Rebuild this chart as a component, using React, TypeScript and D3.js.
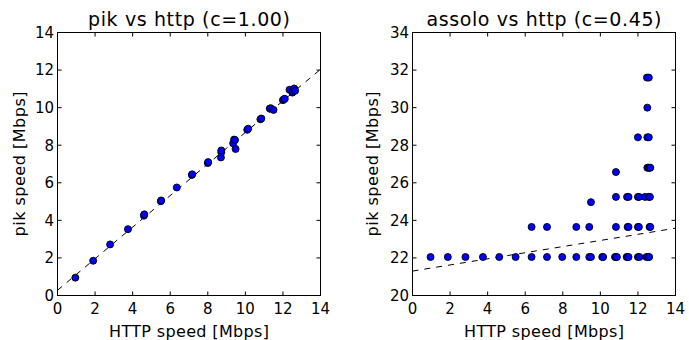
import React, { useEffect, useRef } from 'react';
import * as d3 from 'd3';

// pik vs http
const pikHttp = [0.95, 1.9, 2.8, 3.75, 4.6, 4.62, 5.5, 5.52, 6.35, 7.15, 7.17, 8.0, 8.02, 8.7, 8.72, 8.72, 9.35, 9.4, 9.45, 9.48, 10.1, 10.15, 10.8, 10.85, 11.3, 11.35, 11.5, 12.0, 12.05, 12.1, 12.35, 12.5, 12.55, 12.6, 12.65];
const pikSpeed = [0.95, 1.85, 2.72, 3.53, 4.25, 4.32, 5.02, 5.06, 5.75, 6.42, 6.45, 7.05, 7.1, 7.35, 7.62, 7.72, 8.1, 8.3, 8.28, 7.8, 8.82, 8.88, 9.38, 9.42, 9.95, 9.97, 9.88, 10.4, 10.45, 10.47, 10.95, 10.8, 10.85, 11.02, 10.9];
const pikFit = { intercept: 0.28, slope: 0.84 };

// assolo vs http
const assoloHttp = [
  0.96, 1.88, 2.82, 3.75, 4.62, 5.49, 6.34, 7.16, 7.97, 8.72, 9.41, 9.5, 10.1, 10.15, 10.78, 10.83, 10.88, 11.4, 11.45, 11.5, 12.0, 12.08, 12.45, 12.55, 12.6,
  6.34, 7.16, 8.72, 9.41, 10.83, 11.45, 11.5, 12.0, 12.05, 12.62, 12.66,
  9.5,
  10.83, 11.42, 11.5, 12.0, 12.06, 12.38, 12.58, 12.64,
  10.83,
  12.5, 12.56, 12.62, 12.66,
  12.0, 12.5, 12.58,
  12.5,
  12.48, 12.58,
];
const assoloSpeed = [
  22.05, 22.05, 22.05, 22.05, 22.05, 22.05, 22.05, 22.05, 22.05, 22.05, 22.05, 22.05, 22.05, 22.05, 22.05, 22.05, 22.05, 22.05, 22.05, 22.05, 22.05, 22.05, 22.05, 22.05, 22.05,
  23.65, 23.65, 23.65, 23.65, 23.65, 23.65, 23.65, 23.65, 23.65, 23.65, 23.65,
  24.97,
  25.25, 25.25, 25.25, 25.25, 25.25, 25.25, 25.25, 25.25,
  26.57,
  26.8, 26.8, 26.8, 26.8,
  28.42, 28.42, 28.42,
  30.0,
  31.6, 31.6,
];
const assoloFit = { intercept: 21.3, slope: 0.163 };

const xTicks = [0, 2, 4, 6, 8, 10, 12, 14];
const pikTicks = [0, 2, 4, 6, 8, 10, 12, 14];
const assoloTicks = [20, 22, 24, 26, 28, 30, 32, 34];

const FONT = 'DejaVu Sans, sans-serif';

const Panel = ({ left, title, titleLen, xs, ys, yTicks, fit, yLabelX }) => {
  const ref = useRef(null);

  useEffect(() => {
    const w = 263, h = 263, top = 32.5;
    const g = d3.select(ref.current);
    g.selectAll('*').remove();
    g.attr('transform', `translate(${left},${top})`);

    const x = d3.scaleLinear().domain([0, 14]).range([0, w]);
    const y = d3.scaleLinear().domain([yTicks[0], yTicks[yTicks.length - 1]]).range([h, 0]);

    // fit line
    g.append('line')
      .attr('x1', x(0)).attr('y1', y(fit.intercept))
      .attr('x2', x(14)).attr('y2', y(fit.intercept + fit.slope * 14))
      .attr('stroke', 'black').attr('stroke-width', 1)
      .attr('stroke-dasharray', '6,6');

    g.selectAll('circle')
      .data(xs.map((v, i) => [v, ys[i]]))
      .enter().append('circle')
      .attr('cx', d => x(d[0]))
      .attr('cy', d => y(d[1]))
      .attr('r', 3.5)
      .attr('fill', '#0000ff')
      .attr('stroke', 'black')
      .attr('stroke-width', 0.9);

    // frame
    g.append('rect')
      .attr('width', w).attr('height', h)
      .attr('fill', 'none').attr('stroke', 'black').attr('stroke-width', 1);

    // ticks inside on all four sides
    const tk = 4;
    xTicks.forEach(t => {
      g.append('line').attr('x1', x(t)).attr('x2', x(t)).attr('y1', h).attr('y2', h - tk).attr('stroke', 'black');
      g.append('line').attr('x1', x(t)).attr('x2', x(t)).attr('y1', 0).attr('y2', tk).attr('stroke', 'black');
      g.append('text').attr('x', x(t)).attr('y', h + 18)
        .attr('text-anchor', 'middle').attr('font-family', FONT).attr('font-size', 15)
        .text(t);
    });
    yTicks.forEach(t => {
      g.append('line').attr('y1', y(t)).attr('y2', y(t)).attr('x1', 0).attr('x2', tk).attr('stroke', 'black');
      g.append('line').attr('y1', y(t)).attr('y2', y(t)).attr('x1', w).attr('x2', w - tk).attr('stroke', 'black');
      g.append('text').attr('x', -3.5).attr('y', y(t)).attr('dy', '0.36em')
        .attr('text-anchor', 'end').attr('font-family', FONT).attr('font-size', 15)
        .text(t);
    });

    g.append('text').attr('x', w / 2).attr('y', -6.5)
      .attr('text-anchor', 'middle').attr('font-family', FONT).attr('font-size', 19)
      .attr('textLength', titleLen).attr('lengthAdjust', 'spacing')
      .text(title);

    g.append('text').attr('x', w / 2).attr('y', h + 41)
      .attr('text-anchor', 'middle').attr('font-family', FONT).attr('font-size', 16)
      .attr('textLength', 160).attr('lengthAdjust', 'spacing')
      .text('HTTP speed [Mbps]');

    g.append('text')
      .attr('transform', `translate(${yLabelX},${h / 2}) rotate(-90)`)
      .attr('text-anchor', 'middle').attr('font-family', FONT).attr('font-size', 16)
      .attr('textLength', 145).attr('lengthAdjust', 'spacing')
      .text('pik speed [Mbps]');
  }, [left, title, titleLen, xs, ys, yTicks, fit, yLabelX]);

  return <g ref={ref}></g>;
};

export default function App() {
  return (
    <svg width={689} height={340} style={{ position: 'absolute', left: 0, top: 0, background: 'white' }}>
      <Panel left={57.5} title="pik vs http (c=1.00)" titleLen={202} xs={pikHttp} ys={pikSpeed} yTicks={pikTicks} fit={pikFit} yLabelX={-33} />
      <Panel left={412.5} title="assolo vs http (c=0.45)" titleLen={235} xs={assoloHttp} ys={assoloSpeed} yTicks={assoloTicks} fit={assoloFit} yLabelX={-35} />
    </svg>
  );
}
